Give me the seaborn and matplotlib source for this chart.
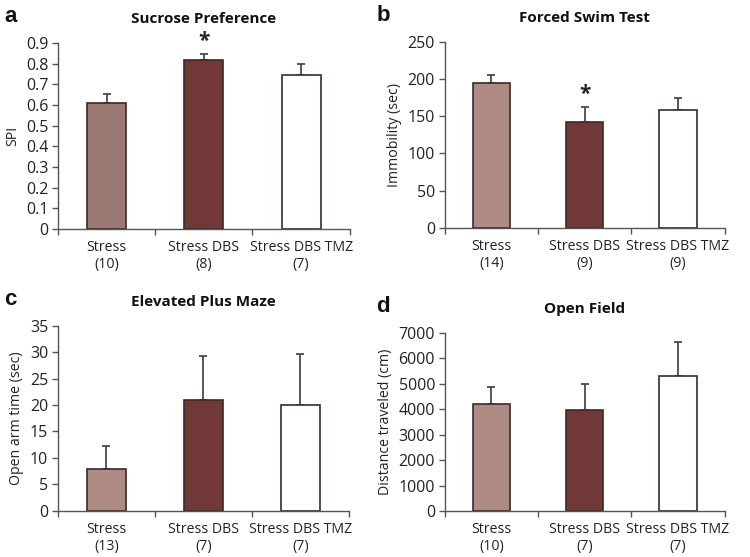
import matplotlib
matplotlib.use("Agg")
import matplotlib.pyplot as plt
import seaborn as sns
import pandas as pd
import numpy as np

sns.set_theme(style="white")
plt.rcParams['font.family'] = ['Open Sans', 'DejaVu Sans']

groups = ["Stress", "Stress DBS", "Stress DBS TMZ"]

n_a = ["10", "8", "7"]
val_a = [0.61, 0.815, 0.745]
err_a = [0.045, 0.03, 0.055]

n_b = ["14", "9", "9"]
val_b = [195, 142, 158]
err_b = [10, 20, 16]

n_c = ["13", "7", "7"]
val_c = [8, 21, 20]
err_c = [4.2, 8.2, 9.6]

n_d = ["10", "7", "7"]
val_d = [4200, 3950, 5320]
err_d = [650, 1050, 1300]

colors_a = ["#a0756a", "#7a2f2d", "#ffffff"]
colors_other = ["#b5877c", "#7a2f2d", "#ffffff"]

panels = [
    dict(letter="a", title="Sucrose Preference", ylabel="SPI", n=n_a, val=val_a, err=err_a,
         ylim=0.9, ticks=np.arange(0, 0.91, 0.1), fmt=lambda t: ("0" if t == 0 else f"{t:.1f}"),
         star=[False, True, False], colors=colors_a,
         pos=[0.0773, 0.589, 0.389, 0.334]),
    dict(letter="b", title="Forced Swim Test", ylabel="Immobility (sec)", n=n_b, val=val_b, err=err_b,
         ylim=250, ticks=np.arange(0, 251, 50), fmt=lambda t: f"{int(t)}",
         star=[False, True, False], colors=colors_other,
         pos=[0.593, 0.591, 0.373, 0.334]),
    dict(letter="c", title="Elevated Plus Maze", ylabel="Open arm time (sec)", n=n_c, val=val_c, err=err_c,
         ylim=35, ticks=np.arange(0, 36, 5), fmt=lambda t: f"{int(t)}",
         star=[False, False, False], colors=colors_other,
         pos=[0.0773, 0.0826, 0.388, 0.333]),
    dict(letter="d", title="Open Field", ylabel="Distance traveled (cm)", n=n_d, val=val_d, err=err_d,
         ylim=7000, ticks=np.arange(0, 7001, 1000), fmt=lambda t: f"{int(t)}",
         star=[False, False, False], colors=colors_other,
         pos=[0.593, 0.0826, 0.373, 0.320]),
]

fig = plt.figure(figsize=(7.5, 5.57), dpi=100)
edge = "#3a2a28"

for p in panels:
    ax = fig.add_axes(p["pos"])
    df = pd.DataFrame({"group": groups, "value": p["val"]})
    sns.barplot(data=df, x="group", y="value", hue="group", palette=p["colors"],
                order=groups, hue_order=groups, legend=False, width=0.4,
                edgecolor=edge, linewidth=1.2, ax=ax, errorbar=None, zorder=2)
    xs = np.arange(len(groups))
    ax.errorbar(xs, p["val"], yerr=[np.zeros(3), p["err"]], fmt="none",
                ecolor="#4a4a4a", elinewidth=1.3, capsize=3, capthick=1.3, zorder=1)
    for i, s in enumerate(p["star"]):
        if s:
            top = p["val"][i] + p["err"][i]
            ax.text(i, top + p["ylim"] * 0.015, "*", ha="center", va="bottom",
                    fontsize=15, fontweight="bold", color="#222222")
    ax.set_xlim(-0.5, 2.5)
    ax.set_ylim(0, p["ylim"])
    ax.set_yticks(p["ticks"])
    ax.set_yticklabels([p["fmt"](t) for t in p["ticks"]], fontsize=11.5, color="#222222")
    ax.set_xticks([-0.5, 0.5, 1.5, 2.5])
    ax.set_xticklabels([])
    ax.set_xticks(xs, minor=True)
    ax.set_xticklabels([f"{g}\n({n})" for g, n in zip(groups, p["n"])], minor=True,
                       fontsize=10.2, color="#222222", linespacing=1.15)
    ax.tick_params(axis="x", which="minor", length=0, pad=8)
    ax.tick_params(axis="x", which="major", length=4, width=1, color="#555555", direction="out", bottom=True)
    ax.tick_params(axis="y", length=4, width=1, color="#555555", direction="out", left=True, pad=3)
    for side in ["top", "right"]:
        ax.spines[side].set_visible(False)
    for side in ["left", "bottom"]:
        ax.spines[side].set_color("#555555")
        ax.spines[side].set_linewidth(1)
    ax.set_xlabel("")
    ax.set_ylabel(p["ylabel"], fontsize=10.2, color="#222222", labelpad=4)
    ax.set_title(p["title"], fontsize=11, fontweight="bold", color="#111111", pad=14)
    bb = ax.get_position()
    fig.text(bb.x0 - 0.072 if bb.x0 < 0.3 else bb.x0 - 0.091, bb.y1 + 0.047, p["letter"],
             fontsize=16, fontweight="bold", family=["Liberation Sans", "DejaVu Sans"],
             ha="left", va="center", color="#111111")

fig.savefig("out.png", dpi=100, facecolor="white")
